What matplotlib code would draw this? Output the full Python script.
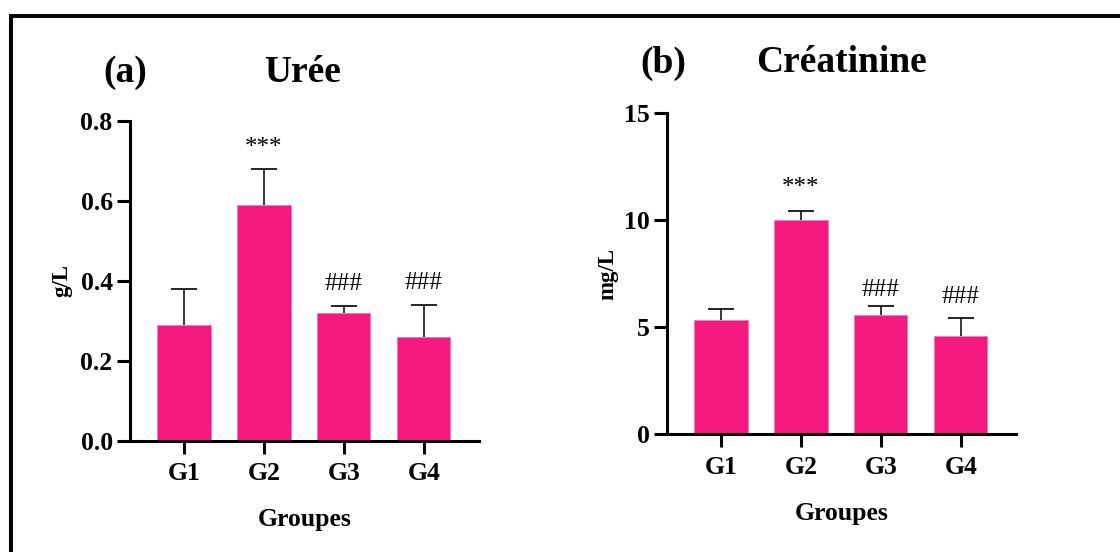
import matplotlib
matplotlib.use("Agg")
import matplotlib.pyplot as plt
from matplotlib.lines import Line2D
import numpy as np

# ---- data ----
groups = ["G1", "G2", "G3", "G4"]

uree_mean = [0.29, 0.59, 0.32, 0.26]
uree_err = [0.09, 0.09, 0.017, 0.08]
uree_marks = ["", "***", "###", "###"]

creat_mean = [5.35, 10.0, 5.58, 4.57]
creat_err = [0.50, 0.40, 0.42, 0.84]
creat_marks = ["", "***", "###", "###"]

uree_ticks = [0.0, 0.2, 0.4, 0.6, 0.8]
creat_ticks = [0, 5, 10, 15]

# ---- style ----
W, H, DPI = 1120, 552, 100
BAR_COLOR = "#F5187F"
SERIF = "Liberation Serif"
LW = 2.2  # spine / tick width (pt)

plt.rcParams["font.family"] = [SERIF, "DejaVu Serif"]
plt.rcParams["font.weight"] = "bold"

fig = plt.figure(figsize=(W / DPI, H / DPI), dpi=DPI)
fig.patch.set_facecolor("white")


def px_axes(left, top, right, bottom):
    return fig.add_axes([left / W, 1 - bottom / H, (right - left) / W, (bottom - top) / H])


def draw_panel(ax, means, errs, marks, ticks, ylim, fmt, ylabel, label_x, mark_offsets):
    x = np.arange(len(groups))
    ax.bar(x, means, width=0.665, color=BAR_COLOR, edgecolor="#F77AB4",
           linewidth=0.6, zorder=2)
    eb = ax.errorbar(x, means, yerr=[np.zeros(len(errs)), errs], fmt="none",
                     ecolor="black", elinewidth=1.1, capsize=9.5, capthick=1.2,
                     zorder=1)
    # keep only the upper caps
    eb[1][0].set_visible(False)
    for i, (m, e, s) in enumerate(zip(means, errs, marks)):
        if s:
            ax.annotate(s, xy=(i, m + e), xytext=(0, mark_offsets[i]),
                        textcoords="offset pixels", ha="center", va="baseline",
                        fontsize=18, fontweight="normal", family=SERIF)
    ax.set_xlim(-0.675, 3.69)
    ax.set_ylim(*ylim)
    ax.set_xticks(x)
    ax.set_xticklabels(groups)
    ax.set_yticks(ticks)
    ax.set_yticklabels([fmt.format(t) for t in ticks])
    for side in ("top", "right"):
        ax.spines[side].set_visible(False)
    for side in ("left", "bottom"):
        ax.spines[side].set_linewidth(LW)
    ax.tick_params(axis="both", direction="out", length=9.5, width=LW,
                   labelsize=18.5)
    ax.tick_params(axis="x", pad=6)
    ax.tick_params(axis="y", pad=3)
    for lab in ax.get_xticklabels() + ax.get_yticklabels():
        lab.set_fontweight("bold")
    ax.set_ylabel(ylabel, fontsize=16.5, fontweight="bold")
    ax.yaxis.set_label_coords(label_x, 0.5)
    ax.set_xlabel("Groupes", fontsize=18.5, fontweight="bold", va="baseline")
    ax.xaxis.set_label_coords(0.5, -0.267)


ax_a = px_axes(130, 120.7, 479, 440.7)
draw_panel(ax_a, uree_mean, uree_err, uree_marks, uree_ticks, (0, 0.8), "{:.1f}",
           "g/L", -0.166, [0, 15, 16, 16])

ax_b = px_axes(667, 113, 1016, 434)
draw_panel(ax_b, creat_mean, creat_err, creat_marks, creat_ticks, (0, 15), "{:d}",
           "mg/L", -0.140, [0, 17, 10, 15])

# panel titles
title_kw = dict(fontsize=27, fontweight="bold", ha="center", va="center")
fig.text(125 / W, 1 - 72 / H, "(a)", **title_kw)
fig.text(303 / W, 1 - 72 / H, "Urée", **title_kw)
fig.text(663 / W, 1 - 63 / H, "(b)", **title_kw)
fig.text(842 / W, 1 - 63 / H, "Créatinine", **title_kw)

# outer frame (top and left edges)
fig.add_artist(Line2D([10.5 / W, 1.0], [1 - 15.5 / H, 1 - 15.5 / H],
                      transform=fig.transFigure, color="black", linewidth=2.9,
                      solid_capstyle="butt"))
fig.add_artist(Line2D([10.5 / W, 10.5 / W], [1 - 14 / H, 0.0],
                      transform=fig.transFigure, color="black", linewidth=2.9,
                      solid_capstyle="butt"))

fig.savefig("out.png", dpi=DPI, facecolor="white")
